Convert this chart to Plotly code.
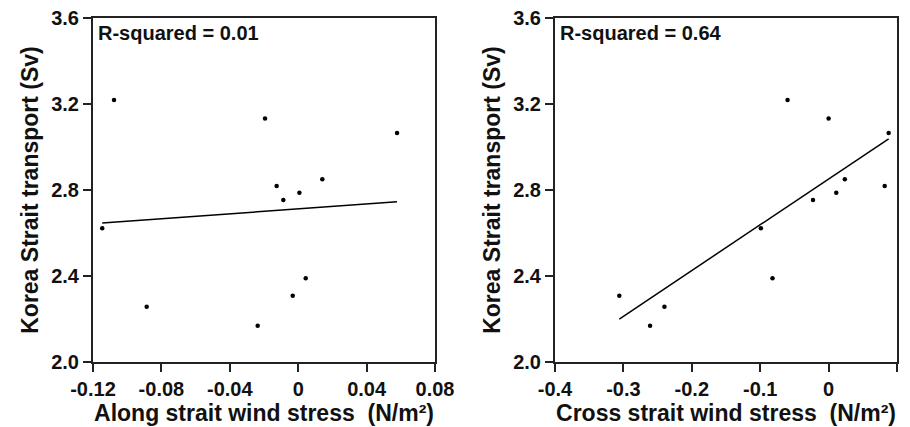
import numpy as np
import plotly.graph_objects as go

# Data
transport = [3.219, 3.133, 3.065, 2.850, 2.819, 2.787, 2.753, 2.622, 2.389, 2.308, 2.257, 2.169]
along_stress = [-0.1077, -0.0194, 0.0578, 0.0141, -0.0126, 0.0007, -0.0087, -0.1146, 0.0044, -0.0032, -0.0886, -0.0237]
cross_stress = [-0.060, 0.000, 0.0878, 0.0237, 0.082, 0.0112, -0.0228, -0.099, -0.082, -0.306, -0.240, -0.261]

left_xticks = [-0.12, -0.08, -0.04, 0, 0.04, 0.08]
left_xticktext = ["-0.12", "-0.08", "-0.04", "0", "0.04", "0.08"]
right_xticks = [-0.4, -0.3, -0.2, -0.1, 0, 0.1]
right_xticktext = ["-0.4", "-0.3", "-0.2", "-0.1", "0", "0.1"]
yticks = [2.0, 2.4, 2.8, 3.2, 3.6]
yticktext = ["2.0", "2.4", "2.8", "3.2", "3.6"]
r2_labels = ["R-squared = 0.01", "R-squared = 0.64"]
x_titles = ["Along strait wind stress  (N/m²)", "Cross strait wind stress  (N/m²)"]
y_title = "Korea Strait transport (Sv)"

FONT = "Liberation Sans, Arial, Helvetica, sans-serif"

fig = go.Figure()

def add_panel(xs, xa, ya):
    xs = np.array(xs); ys = np.array(transport)
    fig.add_trace(go.Scatter(x=xs, y=ys, mode="markers", xaxis=xa, yaxis=ya,
                             marker=dict(color="black", size=4.5), showlegend=False))
    m, b = np.polyfit(xs, ys, 1)
    xl = np.array([xs.min(), xs.max()])
    fig.add_trace(go.Scatter(x=xl, y=m * xl + b, mode="lines", xaxis=xa, yaxis=ya,
                             line=dict(color="black", width=1.5), showlegend=False))

add_panel(along_stress, "x", "y")
add_panel(cross_stress, "x2", "y2")

axis_common = dict(showgrid=False, zeroline=False, showline=True, linecolor="#222",
                   linewidth=2, mirror=True, ticks="outside", ticklen=8, tickwidth=2,
                   tickcolor="#222", automargin=False,
                   tickfont=dict(family=FONT, size=20, color="#111", weight="bold"))

tfont = dict(family=FONT, size=23, color="#111", weight="bold")
yfont = dict(family=FONT, size=23, color="#111", weight="bold")

fig.update_layout(
    width=910, height=427,
    margin=dict(l=0, r=0, t=18, b=65),
    plot_bgcolor="white", paper_bgcolor="white",
    xaxis=dict(domain=[93/910, 435/910], range=[-0.12, 0.08], tickvals=left_xticks,
               ticktext=left_xticktext, anchor="y",
               title=dict(text=x_titles[0], font=tfont, standoff=4), **axis_common),
    yaxis=dict(domain=[0, 1], range=[2.0, 3.6], tickvals=yticks, ticktext=yticktext,
               anchor="x", title=dict(text=y_title, font=yfont, standoff=6), **axis_common),
    xaxis2=dict(domain=[555/910, 897/910], range=[-0.4, 0.1], tickvals=right_xticks,
                ticktext=right_xticktext, anchor="y2",
                title=dict(text=x_titles[1], font=tfont, standoff=4), **axis_common),
    yaxis2=dict(domain=[0, 1], range=[2.0, 3.6], tickvals=yticks, ticktext=yticktext,
                anchor="x2", title=dict(text=y_title, font=yfont, standoff=6), **axis_common),
)

for lab, xr, yr in [(r2_labels[0], "x domain", "y domain"), (r2_labels[1], "x2 domain", "y2 domain")]:
    fig.add_annotation(text=lab, xref=xr, yref=yr, x=0.01, y=0.995, xanchor="left",
                       yanchor="top", showarrow=False,
                       font=dict(family=FONT, size=20, color="#111", weight="bold"))

fig.write_html("out.html")
